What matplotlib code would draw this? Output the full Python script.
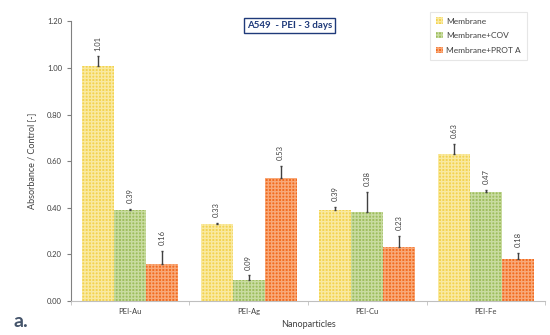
import matplotlib
matplotlib.use("Agg")
import matplotlib.pyplot as plt
import numpy as np

plt.rcParams['font.family'] = ['Lato', 'DejaVu Sans']
plt.rcParams['hatch.linewidth'] = 1.0

categories = ["PEI-Au", "PEI-Ag", "PEI-Cu", "PEI-Fe"]
series_names = ["Membrane", "Membrane+COV", "Membrane+PROT A"]
membrane = [1.01, 0.33, 0.39, 0.63]
membrane_cov = [0.39, 0.09, 0.38, 0.47]
membrane_prot = [0.16, 0.53, 0.23, 0.18]
err_membrane = [0.04, 0.005, 0.015, 0.045]
err_cov = [0.005, 0.02, 0.09, 0.007]
err_prot = [0.055, 0.05, 0.05, 0.025]

values = [membrane, membrane_cov, membrane_prot]
errors = [err_membrane, err_cov, err_prot]
face_colors = ["#F3D34E", "#9DBD5C", "#F26B1E"]
hatch_colors = ["#F9E9A0", "#C8DBA0", "#F8A878"]

fig = plt.figure(figsize=(5.5, 3.35), dpi=100)
ax = fig.add_axes([0.129, 0.1015, 0.862, 0.8345])

x = np.arange(len(categories))
width = 0.27
for k in range(3):
    pos = x + (k - 1) * width
    ax.bar(pos, values[k], width, color=face_colors[k], edgecolor=hatch_colors[k],
           hatch="+++++", linewidth=0, label=series_names[k], zorder=2)
    # error bars only upward
    ax.errorbar(pos, values[k], yerr=[np.zeros(4), errors[k]], fmt="none",
                ecolor="#404040", elinewidth=1.0, capsize=1.0, capthick=1.0, zorder=3)
    for p, v, e in zip(pos, values[k], errors[k]):
        ax.text(p, v + e + 0.025, "%.2f" % v, rotation=90, ha="center", va="bottom",
                fontsize=5.5, color="#404040")

ax.set_xlim(-0.5, len(categories) - 0.5)
ax.set_ylim(0, 1.2)
ax.set_yticks(np.arange(0, 1.21, 0.2))
ax.set_yticklabels(["%.2f" % t for t in np.arange(0, 1.21, 0.2)])
ax.set_xticks(x)
ax.set_xticklabels(categories)
ax.set_xticks(np.arange(-0.5, len(categories), 1.0), minor=True)
ax.tick_params(axis="x", which="major", length=0, labelsize=5.5, colors="#404040", pad=5)
ax.tick_params(axis="x", which="minor", length=3, color="#BFBFBF")
ax.tick_params(axis="y", length=3, labelsize=5.5, colors="#404040", color="#808080")

for s in ["top", "right"]:
    ax.spines[s].set_visible(False)
ax.spines["left"].set_color("#808080")
ax.spines["bottom"].set_color("#BFBFBF")

ax.set_ylabel("Absorbance / Control [-]", fontsize=6.5, color="#404040", labelpad=8)
ax.set_xlabel("Nanoparticles", fontsize=6.5, color="#404040", labelpad=4)

fig.text(0.527, 0.925, "A549  - PEI - 3 days", ha="center", va="center", fontsize=7,
         fontweight="bold", color="#1F3A7A",
         bbox=dict(boxstyle="square,pad=0.3", facecolor="white", edgecolor="#1F3A7A", linewidth=1.0))

leg = ax.legend(loc="upper right", bbox_to_anchor=(0.97, 1.05), fontsize=6, frameon=True,
                fancybox=False, edgecolor="#E0E0E0", handlelength=0.8, handleheight=0.8,
                handletextpad=0.4, labelspacing=0.9, borderpad=0.7, labelcolor="#404040")
leg.get_frame().set_linewidth(0.8)

fig.text(0.025, 0.04, "a.", fontsize=14, fontweight="bold", color="#44546A", ha="left", va="center")

fig.savefig("out.png", dpi=100)
